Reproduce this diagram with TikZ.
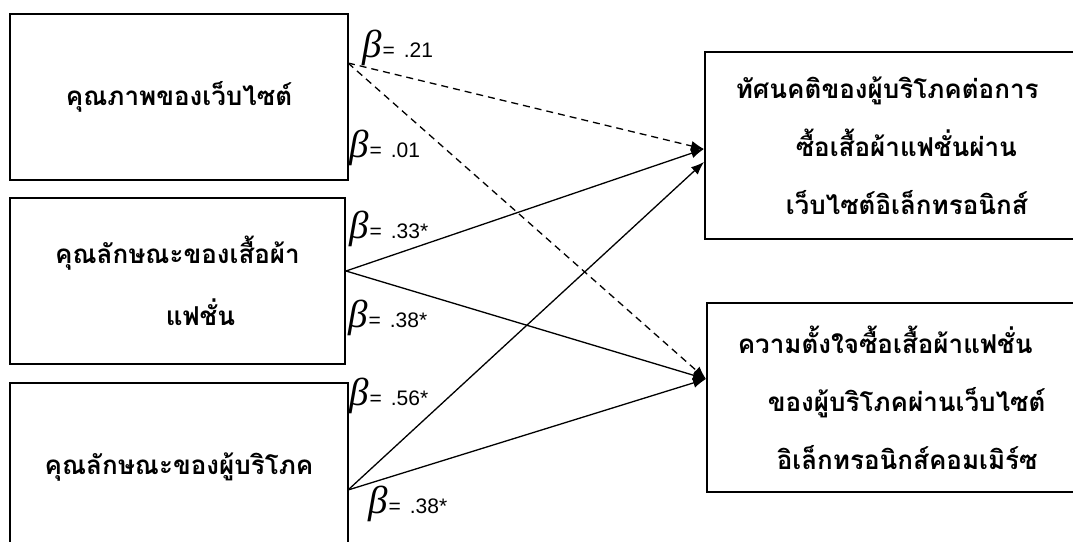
\documentclass[tikz,border=0pt]{standalone}
\usepackage{fontspec}
\usetikzlibrary{arrows.meta}
\newfontfamily\thaifont[Script=Thai]{Loma}
\newfontfamily\betafont{Liberation Serif}
\newfontfamily\coeffont{Liberation Sans}
\newcommand{\betalab}[1]{{\betafont\itshape\fontsize{39}{39}\selectfont β}\hspace{1pt}{\coeffont\fontsize{21}{21}\selectfont =\hspace{9pt}#1}}

\begin{document}
\begin{tikzpicture}[x=1pt, y=-1pt,
    factor/.style={draw=black, line width=1.6pt, fill=white, align=center,
                   inner sep=0pt, font=\thaifont\bfseries\fontsize{26}{62}\selectfont},
    outcome/.style={factor, anchor=west, align=left, inner xsep=31pt,
                    minimum height=187pt, font=\thaifont\bfseries\fontsize{26}{58}\selectfont},
    coef/.style={anchor=base west, inner sep=0pt},
    path/.style={-{Latex[length=13pt,width=10pt]}, draw=black, line width=1.3pt},
    weak/.style={path, dash pattern=on 7pt off 5pt}
  ]
    \useasboundingbox[fill=white] (0,0) rectangle (1073,541);

    % left boxes
    \node[factor, minimum width=338pt, minimum height=166pt] (site) at (179,97)
      {คุณภาพของเว็บไซต์};
    \node[factor, minimum width=335pt, minimum height=166pt] (cloth) at (177.5,281)
      {คุณลักษณะของเสื้อผ้า\\\hspace*{46pt}แฟชั่น};
    \node[factor, minimum width=338pt, minimum height=168pt] (buyer) at (179,467)
      {คุณลักษณะของผู้บริโภค};

    % right boxes (cut at the page edge)
    \node[outcome, text width=330pt] (attit) at (704,145.5)
      {ทัศนคติของผู้บริโภคต่อการ\\\hspace*{60pt}ซื้อเสื้อผ้าแฟชั่นผ่าน\\\hspace*{50pt}เว็บไซต์อิเล็กทรอนิกส์};
    \node[outcome, text width=330pt, minimum height=189pt] (intent) at (706,397.5)
      {ความตั้งใจซื้อเสื้อผ้าแฟชั่น\\\hspace*{30pt}ของผู้บริโภคผ่านเว็บไซต์\\\hspace*{39pt}อิเล็กทรอนิกส์คอมเมิร์ซ};

    \coordinate (siteOut)  at (348,63);
    \coordinate (clothOut) at (346,271);
    \coordinate (buyerOut) at (348,490);
    \coordinate (attitA)   at (704,149);
    \coordinate (attitB)   at (704,162);
    \coordinate (intentIn) at (706,379);

    \foreach \a/\b in {siteOut/attitA, siteOut/intentIn}
      \draw[weak] (\a) -- (\b);
    \foreach \a/\b in {clothOut/attitA, clothOut/intentIn, buyerOut/attitB, buyerOut/intentIn}
      \draw[path] (\a) -- (\b);

    % path coefficients
    \node[coef] (b1) at (362,57)  {\betalab{.21}};
    \node[coef] (b2) at (349,157) {\betalab{.01}};
    \node[coef] (b3) at (349,238) {\betalab{.33*}};
    \node[coef] (b4) at (348,327) {\betalab{.38*}};
    \node[coef] (b5) at (349,405) {\betalab{.56*}};
    \node[coef] (b6) at (368,513) {\betalab{.38*}};
  \end{tikzpicture}
\end{document}
